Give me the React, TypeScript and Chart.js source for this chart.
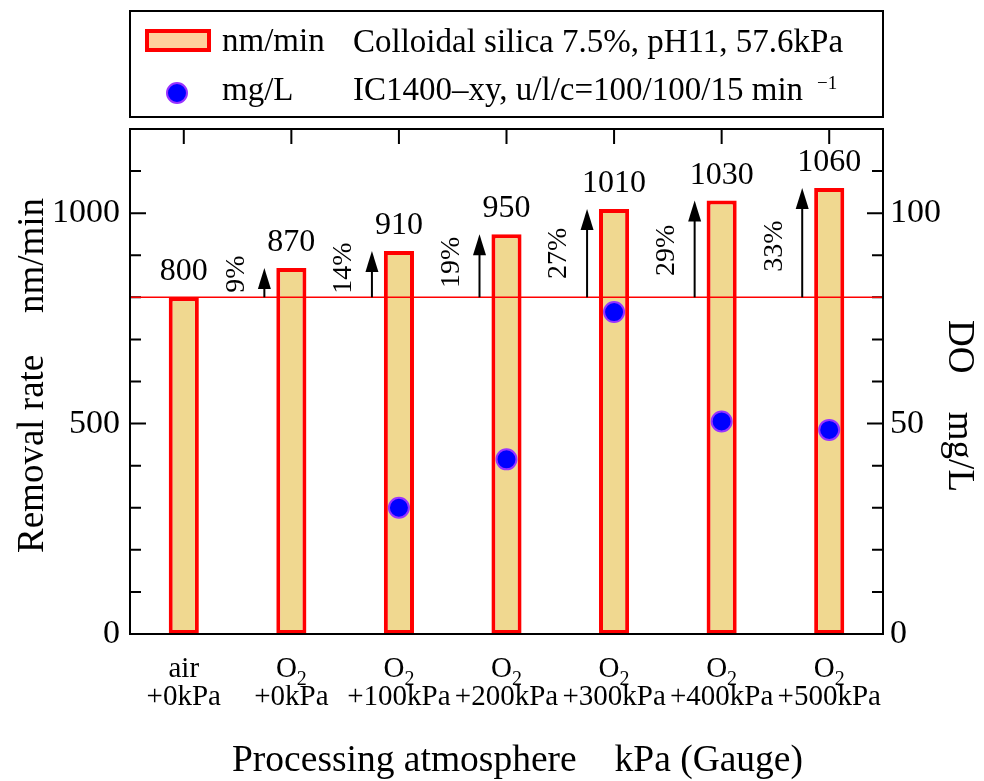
import React, { useEffect, useRef } from "react";
import { Chart, registerables } from "chart.js";

Chart.register(...registerables);

// ---------- data ----------
const gasLabels = ["air", "O2", "O2", "O2", "O2", "O2", "O2"];
const pressureLabels = ["+0kPa", "+0kPa", "+100kPa", "+200kPa", "+300kPa", "+400kPa", "+500kPa"];
const removalRate = [800, 870, 910, 950, 1010, 1030, 1060];
const dissolvedOxygen: (number | null)[] = [null, null, 30, 41.5, 76.5, 50.5, 48.5];
const increaseLabels = ["", "9%", "14%", "19%", "27%", "29%", "33%"];
const referenceRate = 800;
const legendRateLabel = "nm/min";
const legendDoLabel = "mg/L";
const legendNote1 = "Colloidal silica 7.5%, pH11, 57.6kPa";
const legendNote2 = "IC1400\u2013xy, u/l/c=100/100/15 min";
const legendNote2Sup = "\u22121";
const xTitleA = "Processing atmosphere";
const xTitleB = "kPa (Gauge)";
const yTitleA = "Removal rate";
const yTitleB = "nm/min";
const y1TitleA = "DO";
const y1TitleB = "mg/L";

const FONT = "'Liberation Serif', 'Times New Roman', serif";

function drawFormula(ctx: CanvasRenderingContext2D, text: string, cx: number, baseline: number, size: number) {
  const parts: { t: string; sub: boolean }[] = [];
  for (const ch of text) {
    const sub = /[0-9]/.test(ch) && parts.length > 0;
    const last = parts[parts.length - 1];
    if (last && last.sub === sub) last.t += ch;
    else parts.push({ t: ch, sub });
  }
  const subSize = Math.round(size * 0.68);
  let total = 0;
  for (const p of parts) {
    ctx.font = `${p.sub ? subSize : size}px ${FONT}`;
    total += ctx.measureText(p.t).width;
  }
  let x = cx - total / 2;
  ctx.textAlign = "left";
  ctx.textBaseline = "alphabetic";
  for (const p of parts) {
    ctx.font = `${p.sub ? subSize : size}px ${FONT}`;
    ctx.fillText(p.t, x, baseline + (p.sub ? size * 0.28 : 0));
    x += ctx.measureText(p.t).width;
  }
}

const decorPlugin = {
  id: "decor",
  beforeDatasetsDraw(chart: any) {
    const { ctx, chartArea: a, scales } = chart;
    const y = scales.y, y1 = scales.y1, x = scales.x;
    ctx.save();
    ctx.strokeStyle = "#000";
    ctx.lineWidth = 2;
    ctx.beginPath();
    for (const t of y.ticks) {
      if (t.value <= y.min || t.value >= y.max) continue;
      const py = y.getPixelForValue(t.value);
      const len = t.value % 500 === 0 ? 16 : 11;
      ctx.moveTo(a.left, py);
      ctx.lineTo(a.left + len, py);
    }
    for (const t of y1.ticks) {
      if (t.value <= y1.min || t.value >= y1.max) continue;
      const py = y1.getPixelForValue(t.value);
      const len = t.value % 50 === 0 ? 16 : 11;
      ctx.moveTo(a.right, py);
      ctx.lineTo(a.right - len, py);
    }
    for (let i = 0; i < gasLabels.length; i++) {
      const px = x.getPixelForValue(i);
      ctx.moveTo(px, a.top);
      ctx.lineTo(px, a.top + 15);
      ctx.moveTo(px, a.bottom);
      ctx.lineTo(px, a.bottom - 15);
    }
    ctx.stroke();
    ctx.restore();
  },
  afterDatasetsDraw(chart: any) {
    const { ctx, chartArea: a, scales } = chart;
    const y = scales.y, x = scales.x;
    ctx.save();
    const yRef = y.getPixelForValue(referenceRate);
    ctx.strokeStyle = "#FF0000";
    ctx.lineWidth = 1.5;
    ctx.beginPath();
    ctx.moveTo(a.left, yRef);
    ctx.lineTo(a.right, yRef);
    ctx.stroke();

    ctx.strokeStyle = "#000";
    ctx.lineWidth = 2;
    ctx.strokeRect(a.left, a.top, a.right - a.left, a.bottom - a.top);

    ctx.fillStyle = "#000";
    for (let i = 0; i < removalRate.length; i++) {
      const cx = x.getPixelForValue(i);
      const yTop = y.getPixelForValue(removalRate[i]);
      ctx.font = `32px ${FONT}`;
      ctx.textAlign = "center";
      ctx.textBaseline = "alphabetic";
      ctx.fillText(String(removalRate[i]), cx, yTop - 17);
      if (increaseLabels[i]) {
        const ax = cx - 27;
        ctx.strokeStyle = "#000";
        ctx.lineWidth = 2;
        ctx.beginPath();
        ctx.moveTo(ax, yRef);
        ctx.lineTo(ax, yTop + 15);
        ctx.stroke();
        ctx.beginPath();
        ctx.moveTo(ax, yTop);
        ctx.lineTo(ax - 6.5, yTop + 21);
        ctx.lineTo(ax + 6.5, yTop + 21);
        ctx.closePath();
        ctx.fill();
        const cy = yRef - 13 + 0.35 * (yTop - yRef);
        ctx.save();
        ctx.translate(ax - 28, cy);
        ctx.rotate(-Math.PI / 2);
        ctx.font = `28px ${FONT}`;
        ctx.textAlign = "center";
        ctx.textBaseline = "middle";
        ctx.fillText(increaseLabels[i], 0, 0);
        ctx.restore();
      }
    }
    ctx.restore();
  },
  afterDraw(chart: any) {
    const { ctx, chartArea: a, scales } = chart;
    const x = scales.x;
    ctx.save();
    ctx.fillStyle = "#000";
    for (let i = 0; i < gasLabels.length; i++) {
      const cx = x.getPixelForValue(i);
      drawFormula(ctx, gasLabels[i], cx, a.bottom + 43, 29);
      ctx.font = `29px ${FONT}`;
      ctx.textAlign = "center";
      ctx.textBaseline = "alphabetic";
      ctx.fillText(pressureLabels[i], cx, a.bottom + 71);
    }
    ctx.font = `37.5px ${FONT}`;
    ctx.textBaseline = "alphabetic";
    ctx.textAlign = "left";
    ctx.fillText(xTitleA, 232, 771);
    ctx.textAlign = "right";
    ctx.fillText(xTitleB, 803, 771);

    ctx.font = `37px ${FONT}`;
    ctx.save();
    ctx.translate(43, 553);
    ctx.rotate(-Math.PI / 2);
    ctx.textAlign = "left";
    ctx.fillText(yTitleA, 0, 0);
    ctx.restore();
    ctx.save();
    ctx.translate(43, 198);
    ctx.rotate(-Math.PI / 2);
    ctx.textAlign = "right";
    ctx.fillText(yTitleB, 0, 0);
    ctx.restore();

    ctx.save();
    ctx.translate(949, 320);
    ctx.rotate(Math.PI / 2);
    ctx.textAlign = "left";
    ctx.fillText(y1TitleA, 0, 0);
    ctx.restore();
    ctx.save();
    ctx.translate(949, 492);
    ctx.rotate(Math.PI / 2);
    ctx.textAlign = "right";
    ctx.fillText(y1TitleB, 0, 0);
    ctx.restore();

    // legend
    ctx.strokeStyle = "#000";
    ctx.lineWidth = 2;
    ctx.strokeRect(a.left, 11, a.right - a.left, 106);
    ctx.fillStyle = "#FFD09C";
    ctx.fillRect(145, 29, 66, 23);
    ctx.strokeStyle = "#FF0000";
    ctx.lineWidth = 4;
    ctx.strokeRect(147, 31, 62, 19);
    ctx.beginPath();
    ctx.arc(177, 93, 10, 0, Math.PI * 2);
    ctx.fillStyle = "#0000FF";
    ctx.fill();
    ctx.strokeStyle = "#9933FF";
    ctx.lineWidth = 2;
    ctx.stroke();

    ctx.fillStyle = "#000";
    ctx.font = `33px ${FONT}`;
    ctx.textAlign = "left";
    ctx.textBaseline = "alphabetic";
    ctx.fillText(legendRateLabel, 222, 51);
    ctx.fillText(legendDoLabel, 222, 100);
    ctx.fillText(legendNote1, 353, 52);
    ctx.fillText(legendNote2, 353, 100);
    const w2 = ctx.measureText(legendNote2).width;
    ctx.font = `19px ${FONT}`;
    ctx.fillText(legendNote2Sup, 353 + w2 + 14, 89);
    ctx.restore();
  },
};

export default function App() {
  const ref = useRef<HTMLCanvasElement | null>(null);
  useEffect(() => {
    if (!ref.current) return;
    const chart = new Chart(ref.current, {
      type: "bar",
      data: {
        labels: pressureLabels,
        datasets: [
          {
            type: "bar",
            data: removalRate,
            yAxisID: "y",
            backgroundColor: "#F0D890",
            borderColor: "#FF0000",
            borderWidth: 4,
            borderSkipped: false,
            barPercentage: 0.28,
            categoryPercentage: 1,
            order: 2,
          } as any,
          {
            type: "line",
            data: dissolvedOxygen,
            yAxisID: "y1",
            showLine: false,
            pointRadius: 10,
            pointBackgroundColor: "#0000FF",
            pointBorderColor: "#9933FF",
            pointBorderWidth: 2,
            order: 1,
          } as any,
        ],
      },
      options: {
        responsive: false,
        animation: false,
        devicePixelRatio: 1,
        layout: { padding: { top: 129, left: 0, right: 0, bottom: 0 } },
        plugins: { legend: { display: false }, tooltip: { enabled: false } },
        scales: {
          x: {
            type: "category",
            offset: true,
            grid: { display: false, drawTicks: false },
            border: { display: false },
            ticks: { display: false },
            afterFit: (s: any) => {
              s.height = 147;
            },
          },
          y: {
            position: "left",
            min: 0,
            max: 1200,
            grid: { display: false, drawTicks: false },
            border: { display: false },
            ticks: {
              stepSize: 100,
              maxTicksLimit: 20,
              autoSkip: false,
              padding: 10,
              color: "#000",
              font: { family: FONT, size: 34 },
              callback: (v: any) => (Number(v) % 500 === 0 ? String(v) : ""),
            },
            afterFit: (s: any) => {
              s.width = 130;
            },
          },
          y1: {
            position: "right",
            min: 0,
            max: 120,
            grid: { display: false, drawTicks: false },
            border: { display: false },
            ticks: {
              stepSize: 10,
              maxTicksLimit: 20,
              autoSkip: false,
              padding: 7,
              color: "#000",
              font: { family: FONT, size: 34 },
              callback: (v: any) => (Number(v) % 50 === 0 ? String(v) : ""),
            },
            afterFit: (s: any) => {
              s.width = 101;
            },
          },
        },
      } as any,
      plugins: [decorPlugin],
    });
    return () => chart.destroy();
  }, []);
  return (
    <div style={{ position: "fixed", left: 0, top: 0, width: 984, height: 781, background: "#fff" }}>
      <canvas ref={ref} width={984} height={781} style={{ display: "block" }} />
    </div>
  );
}
